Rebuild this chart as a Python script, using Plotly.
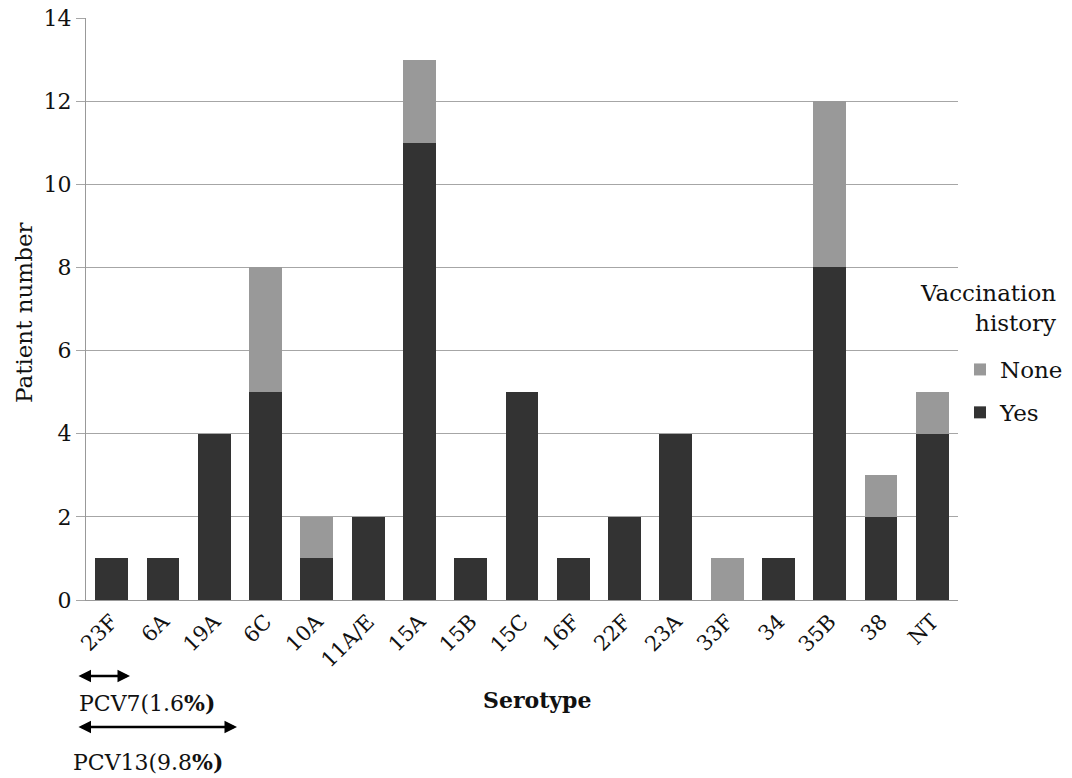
import plotly.graph_objects as go

serotypes = ["23F", "6A", "19A", "6C", "10A", "11A/E", "15A", "15B", "15C",
             "16F", "22F", "23A", "33F", "34", "35B", "38", "NT"]
yes_vals = [1, 1, 4, 5, 1, 2, 11, 1, 5, 1, 2, 4, 0, 1, 8, 2, 4]
none_vals = [0, 0, 0, 3, 1, 0, 2, 0, 0, 0, 0, 0, 1, 0, 4, 1, 1]
y_ticks = [0, 2, 4, 6, 8, 10, 12, 14]

FONT = "DejaVu Serif"
L, R, T, B = 86, 114, 18, 178
W, H = 1072, 778
PW, PH = W - L - R, H - T - B

def px_x(p):
    return (p - L) / PW

def px_y(p):
    return (H - B - p) / PH

fig = go.Figure()
fig.add_trace(go.Bar(x=serotypes, y=yes_vals, name="Yes", legendgroup="yes",
                     legendrank=2,
                     marker=dict(color="#333333", line=dict(width=0))))
fig.add_trace(go.Bar(x=serotypes, y=none_vals, name="None", legendgroup="none",
                     legendrank=1,
                     marker=dict(color="#999999", line=dict(width=0))))

fig.update_layout(
    barmode="stack",
    bargap=0.36,
    width=W, height=H,
    margin=dict(l=L, r=R, t=T, b=B, autoexpand=False),
    plot_bgcolor="white", paper_bgcolor="white",
    font=dict(family=FONT, size=22, color="#111111"),
    showlegend=True,
    legend=dict(traceorder="grouped", x=px_x(960), y=px_y(348),
                yanchor="top", xanchor="left", font=dict(size=23, family=FONT),
                itemwidth=30, tracegroupgap=10, bgcolor="rgba(0,0,0,0)"),
    xaxis=dict(tickangle=-45, showline=True, linecolor="#999999", linewidth=1,
               ticks="", tickfont=dict(size=21, family=FONT), automargin=False),
    yaxis=dict(range=[0, 14], tickvals=y_ticks, showgrid=True,
               gridcolor="#a6a6a6", gridwidth=1, showline=True,
               linecolor="#999999", linewidth=1, ticks="outside", ticklen=9,
               tickcolor="#a6a6a6", tickfont=dict(size=22, family=FONT),
               zeroline=False, automargin=False),
)

annotations = [
    dict(text="Vaccination<br>history", x=px_x(1058), y=px_y(308), xref="paper",
         yref="paper", xanchor="right", yanchor="middle", align="right",
         showarrow=False, font=dict(size=23, family=FONT)),
    dict(text="Patient number", textangle=-90, x=px_x(24), y=px_y(313),
         xref="paper", yref="paper", xanchor="center", yanchor="middle",
         showarrow=False, font=dict(size=23, family=FONT)),
    dict(text="<b>Serotype</b>", x=px_x(537), y=px_y(700), xref="paper",
         yref="paper", xanchor="center", yanchor="middle", showarrow=False,
         font=dict(size=22, family=FONT)),
    dict(text="PCV7(1.6<b>%)</b>", x=px_x(77), y=px_y(703), xref="paper",
         yref="paper", xanchor="left", yanchor="middle", showarrow=False,
         font=dict(size=22, family=FONT)),
    dict(text="PCV13(9.8<b>%)</b>", x=px_x(71), y=px_y(762), xref="paper",
         yref="paper", xanchor="left", yanchor="middle", showarrow=False,
         font=dict(size=22, family=FONT)),
    dict(text="", x=px_x(130), y=px_y(676), ax=-(130 - 77), ay=0,
         xref="paper", yref="paper", showarrow=True, arrowhead=2,
         arrowside="end+start", arrowsize=1, arrowwidth=2.5,
         arrowcolor="#000000"),
    dict(text="", x=px_x(237), y=px_y(727), ax=-(237 - 77), ay=0,
         xref="paper", yref="paper", showarrow=True, arrowhead=2,
         arrowside="end+start", arrowsize=1, arrowwidth=2.5,
         arrowcolor="#000000"),
]
fig.update_layout(annotations=annotations)

fig.write_html("out.html", config={"displayModeBar": False},
               post_script="document.body.style.margin='0';document.body.style.overflow='hidden';")
